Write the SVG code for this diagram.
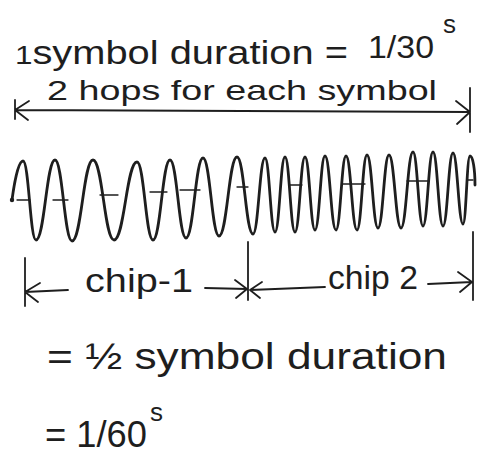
<svg xmlns="http://www.w3.org/2000/svg" width="478" height="454" viewBox="0 0 478 454">
<style>
.t{font-family:"Liberation Sans","DejaVu Sans",sans-serif;fill:#1e1e1e}
.s{stroke:#1e1e1e;fill:none;stroke-linecap:round;stroke-linejoin:round}
.w{stroke-width:2.8}
.a{stroke-width:1.8}
.c{stroke-width:1.3}
</style>
<rect width="478" height="454" fill="#ffffff"/>
<g id="title">
<text class="t" x="15" y="64" font-size="33" textLength="333" lengthAdjust="spacingAndGlyphs"><tspan font-size="26">1</tspan>symbol duration =</text>
<text class="t" x="368" y="58" font-size="32" textLength="66" lengthAdjust="spacingAndGlyphs">1/30</text>
<text class="t" x="443" y="33" font-size="26">s</text>
<text class="t" x="47" y="100" font-size="28" textLength="390" lengthAdjust="spacingAndGlyphs">2 hops for each symbol</text>
</g>
<g id="symbol-arrow">
<path class="s a" d="M15,110 L470,112 M15,110 L29,101 M15,110 L28,120 M15,100 L15,119 M470,112 L456,101 M470,112 L457,124 M470,88 L470,132"/>
</g>
<g id="waveform">
<path class="s w" d="M12,200 C14,185 18,161 23,161 C29,161 30,240 36,240 C44.5,240 46.5,160 55,160 C62.6,160 64.4,241 72,241 C81.5,241 83.5,160 93,160 C102.5,160 104.5,240 114,240 C124.4,240 126.6,162 137,162 C144.2,162 145.8,240 153,240 C160.6,240 162.4,160 170,160 C177.2,160 178.8,238 186,238 C193.6,238 195.4,158 203,158 C210.2,158 211.8,236 219,236 C227.1,236 228.9,157 237,157 C244.2,157 245.8,234 253,234 C258.4,234 259.6,158 265,158 C269.5,158 270.5,232 275,232 C279.5,232 280.5,157 285,157 C289.5,157 290.5,232 295,232 C299.5,232 300.5,157 305,157 C309.5,157 310.5,230 315,230 C319.5,230 320.5,156 325,156 C330,156 331,230 336,230 C340.5,230 341.5,156 346,156 C351,156 352,230 357,230 C361.5,230 362.5,155 367,155 C372,155 373,228 378,228 C383,228 384,155 389,155 C394.4,155 395.6,228 401,228 C406.4,228 407.6,152 413,152 C417.5,152 418.5,226 423,226 C427.5,226 428.5,152 433,152 C437.5,152 438.5,226 443,226 C447.5,226 448.5,153 453,153 C457.5,153 458.5,224 463,224 C466.2,224 466.8,156 470,156 C473,156 475,170 475,185"/>
<circle cx="12" cy="200" r="2.2" fill="#1e1e1e"/>
<path class="s c" d="M17,200 H30 M53,200 H68 M100,195 H118 M150,192 H167 M180,190 H200 M237,187 H248 M290,185 H302 M343,184 H365 M407,181 H428 M467,180 H473"/>
</g>
<g id="chip-arrows">
<path class="s a" d="M25,258 L25,306 M25,292 L68,290 M25,292 L40,283 M25,292 L38,302"/>
<path class="s a" d="M205,288 L247,289 M247,289 L235,280 M247,289 L236,298 M248,242 L248,300 M250,290 L325,287 M250,290 L262,282 M250,290 L260,298"/>
<path class="s a" d="M428,284 L472,282 M472,282 L458,272 M472,282 L460,292 M473,232 L473,300"/>
</g>
<g id="chip-labels">
<text class="t" x="85" y="292" font-size="34" textLength="108" lengthAdjust="spacingAndGlyphs">chip-1</text>
<text class="t" x="328" y="289" font-size="34" textLength="90" lengthAdjust="spacingAndGlyphs">chip 2</text>
</g>
<g id="result">
<text class="t" x="47" y="369" font-size="36" textLength="400" lengthAdjust="spacingAndGlyphs">= ½ symbol duration</text>
<text class="t" x="45" y="447" font-size="36" textLength="102" lengthAdjust="spacingAndGlyphs">= 1/60</text>
<text class="t" x="150" y="421" font-size="26">s</text>
</g>
</svg>
